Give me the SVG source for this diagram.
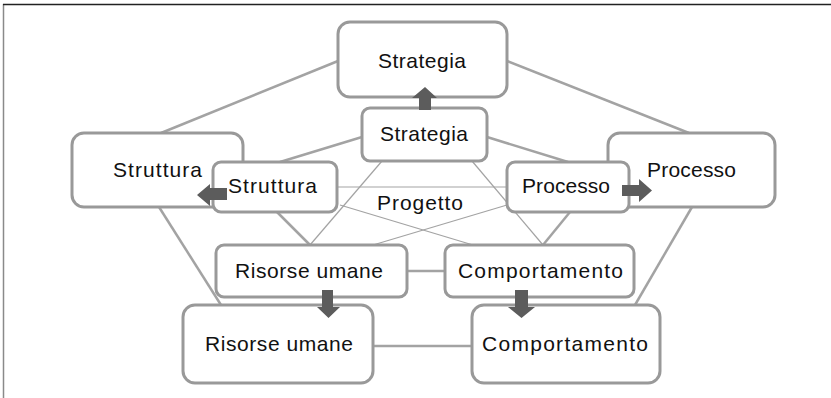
<svg xmlns="http://www.w3.org/2000/svg" width="831" height="398" viewBox="0 0 831 398">
  <style>
    .box { fill: #ffffff; stroke: #999999; stroke-width: 3; }
    .lbl { font-family: "Liberation Sans", Arial, sans-serif; font-size: 21px; fill: #111111; text-anchor: middle; }
    .link { stroke: #a3a3a3; stroke-width: 2.5; fill: none; }
    .thin { stroke: #a3a3a3; stroke-width: 1.2; fill: none; }
    .arrow { fill: #5c5c5c; }
  </style>

  <!-- frame -->
  <line x1="3.5" y1="4" x2="3.5" y2="398" stroke="#8a8a8a" stroke-width="1.5"/>
  <line x1="3" y1="4.5" x2="831" y2="4.5" stroke="#222222" stroke-width="1.5"/>

  <g id="connectors">
    <!-- outer ring -->
    <line class="link" x1="338" y1="61" x2="161" y2="133"/>
    <line class="link" x1="507" y1="61" x2="689" y2="133"/>
    <line class="link" x1="159" y1="207" x2="221" y2="305"/>
    <line class="link" x1="692" y1="207" x2="635" y2="305"/>
    <line class="link" x1="373" y1="346" x2="472" y2="346"/>
    <!-- inner ring -->
    <line class="link" x1="362" y1="137" x2="280" y2="162"/>
    <line class="link" x1="487" y1="137" x2="568" y2="162"/>
    <line class="thin" x1="337" y1="187" x2="507" y2="187"/>
    <line class="link" x1="277" y1="212" x2="310" y2="245"/>
    <line class="link" x1="570" y1="212" x2="543" y2="245"/>
    <line class="link" x1="407" y1="271" x2="445" y2="271"/>
    <!-- cross links -->
    <line class="thin" x1="382" y1="161" x2="310" y2="245"/>
    <line class="thin" x1="472" y1="161" x2="543" y2="245"/>
    <line class="thin" x1="340" y1="205" x2="473" y2="245"/>
    <line class="thin" x1="507" y1="205" x2="373" y2="245"/>
  </g>

  <!-- outer nodes -->
  <g id="strategia-esterna">
    <rect class="box" x="338" y="22" width="169" height="75" rx="12"/>
    <text class="lbl" x="422" y="68" textLength="88">Strategia</text>
  </g>
  <g id="struttura-esterna">
    <rect class="box" x="72" y="133" width="171" height="74" rx="12"/>
    <text class="lbl" x="157.5" y="177" textLength="89">Struttura</text>
  </g>
  <g id="processo-esterno">
    <rect class="box" x="608" y="133" width="167" height="74" rx="12"/>
    <text class="lbl" x="691.5" y="177" textLength="89">Processo</text>
  </g>
  <g id="risorse-esterne">
    <rect class="box" x="183" y="305" width="190" height="78" rx="12"/>
    <text class="lbl" x="279" y="351" textLength="148">Risorse umane</text>
  </g>
  <g id="comportamento-esterno">
    <rect class="box" x="472" y="305" width="188" height="78" rx="12"/>
    <text class="lbl" x="565" y="351" textLength="166">Comportamento</text>
  </g>

  <!-- inner nodes -->
  <g id="strategia-interna">
    <rect class="box" x="362" y="108" width="125" height="53" rx="8"/>
    <text class="lbl" x="424" y="141" textLength="88">Strategia</text>
  </g>
  <g id="struttura-interna">
    <rect class="box" x="213" y="162" width="124" height="50" rx="8"/>
    <text class="lbl" x="272.5" y="193" textLength="89">Struttura</text>
  </g>
  <g id="processo-interno">
    <rect class="box" x="507" y="162" width="122" height="50" rx="8"/>
    <text class="lbl" x="566" y="193" textLength="88">Processo</text>
  </g>
  <g id="risorse-interne">
    <rect class="box" x="216" y="245" width="191" height="52" rx="8"/>
    <text class="lbl" x="309" y="278" textLength="148">Risorse umane</text>
  </g>
  <g id="comportamento-interno">
    <rect class="box" x="445" y="245" width="189" height="52" rx="8"/>
    <text class="lbl" x="540.5" y="278" textLength="165">Comportamento</text>
  </g>

  <g id="progetto">
    <text class="lbl" x="420" y="210" textLength="86">Progetto</text>
  </g>

  <!-- block arrows from the inner ring to the outer ring -->
  <g id="frecce">
    <polygon class="arrow" points="419,110 419,98 412,98 425,87 437,98 431,98 431,110"/>
    <polygon class="arrow" points="227,188 210,188 210,184 197,195 210,206 210,200 227,200"/>
    <polygon class="arrow" points="622,185 639,185 639,179 652,190.5 639,202 639,196 622,196"/>
    <polygon class="arrow" points="322,290 333,290 333,307 340,307 328.5,318 317,307 322,307"/>
    <polygon class="arrow" points="515,290 528,290 528,307 535,307 521.5,318 508,307 515,307"/>
  </g>
</svg>
